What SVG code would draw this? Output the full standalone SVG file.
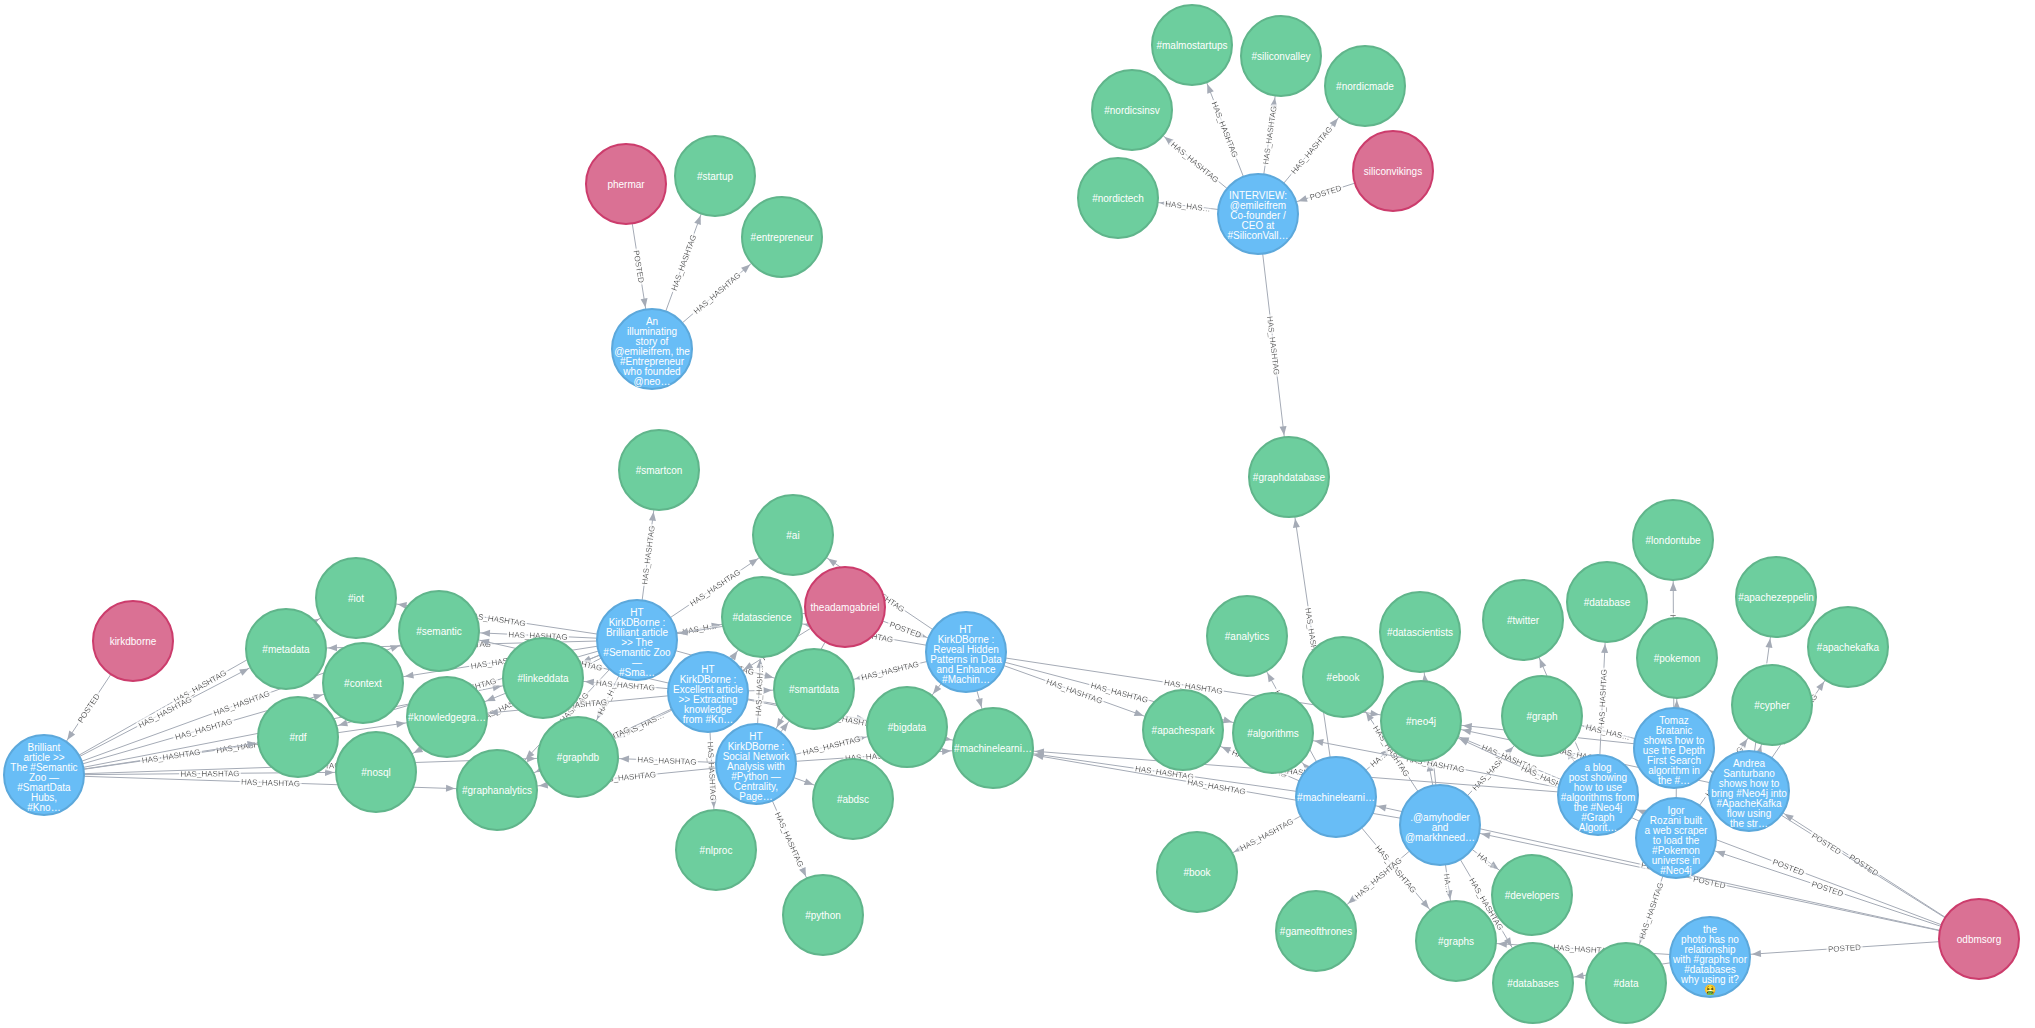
<svg xmlns="http://www.w3.org/2000/svg" width="2035" height="1028" viewBox="0 0 2035 1028">
<style>
.r{fill:none;stroke:#A5ABB6;stroke-width:1}
.e{marker-end:url(#arr)}
.s{marker-start:url(#arr)}
.l{font-family:"Liberation Sans",Arial,sans-serif;font-size:8px;fill:#000;text-anchor:middle;filter:url(#halo)}
.n circle{stroke-width:2}
.u circle{fill:#DA7194;stroke:#CC3C6C}
.t circle{fill:#68BDF6;stroke:#5CA8DB}
.h circle{fill:#6DCE9E;stroke:#60B58B}
.n text{font-family:"Liberation Sans",Arial,sans-serif;font-size:10px;fill:#fff;text-anchor:middle}
</style>
<defs>
<marker id="arr" markerUnits="userSpaceOnUse" orient="auto-start-reverse" refX="0" refY="0" markerWidth="1" markerHeight="1" overflow="visible"><path d="M-42,0L-51,-3.5L-51,3.5Z" fill="#A5ABB6"/></marker>
<filter id="halo" x="-50%" y="-50%" width="200%" height="200%"><feMorphology in="SourceAlpha" operator="dilate" radius="2" result="d"/><feFlood flood-color="#fff"/><feComposite in2="d" operator="in" result="w"/><feMerge><feMergeNode in="w"/><feMergeNode in="SourceGraphic"/></feMerge></filter>
</defs>
<rect width="2035" height="1028" fill="#fff"/>
<g id="connectors">
<path id="e1" class="r e" d="M626,184L652,349"/><text class="l" dy="3"><textPath href="#e1" startOffset="50%">POSTED</textPath></text>
<path id="e2" class="r e" d="M652,349L715,176"/><text class="l" dy="3"><textPath href="#e2" startOffset="50%">HAS_HASHTAG</textPath></text>
<path id="e3" class="r e" d="M652,349L782,237"/><text class="l" dy="3"><textPath href="#e3" startOffset="50%">HAS_HASHTAG</textPath></text>
<path id="e4" class="r s" d="M1258,214L1393,171"/><text class="l" dy="3"><textPath href="#e4" startOffset="50%">POSTED</textPath></text>
<path id="e5" class="r s" d="M1118,198L1258,214"/><text class="l" dy="3"><textPath href="#e5" startOffset="50%">HAS_HAS…</textPath></text>
<path id="e6" class="r s" d="M1132,110L1258,214"/><text class="l" dy="3"><textPath href="#e6" startOffset="50%">HAS_HASHTAG</textPath></text>
<path id="e7" class="r s" d="M1192,45L1258,214"/><text class="l" dy="3"><textPath href="#e7" startOffset="50%">HAS_HASHTAG</textPath></text>
<path id="e8" class="r e" d="M1258,214L1281,56"/><text class="l" dy="3"><textPath href="#e8" startOffset="50%">HAS_HASHTAG</textPath></text>
<path id="e9" class="r e" d="M1258,214L1365,86"/><text class="l" dy="3"><textPath href="#e9" startOffset="50%">HAS_HASHTAG</textPath></text>
<path id="e10" class="r e" d="M1258,214L1289,477"/><text class="l" dy="3"><textPath href="#e10" startOffset="50%">HAS_HASHTAG</textPath></text>
<path id="e11" class="r s" d="M44,775L133,641"/><text class="l" dy="3"><textPath href="#e11" startOffset="50%">POSTED</textPath></text>
<path id="e12" class="r e" d="M44,775L356,598"/><text class="l" dy="3"><textPath href="#e12" startOffset="50%">HAS_HASHTAG</textPath></text>
<path id="e13" class="r e" d="M44,775L286,649"/><text class="l" dy="3"><textPath href="#e13" startOffset="50%">HAS_HASHTAG</textPath></text>
<path id="e14" class="r e" d="M44,775L439,631"/><text class="l" dy="3"><textPath href="#e14" startOffset="50%">HAS_HASHTAG</textPath></text>
<path id="e15" class="r e" d="M44,775L363,683"/><text class="l" dy="3"><textPath href="#e15" startOffset="50%">HAS_HASHTAG</textPath></text>
<path id="e16" class="r e" d="M44,775L447,717"/><text class="l" dy="3"><textPath href="#e16" startOffset="50%">HAS_HASHTAG</textPath></text>
<path id="e17" class="r e" d="M44,775L298,737"/><text class="l" dy="3"><textPath href="#e17" startOffset="50%">HAS_HASHTAG</textPath></text>
<path id="e18" class="r e" d="M44,775L543,678"/><text class="l" dy="3"><textPath href="#e18" startOffset="50%">HAS_HASHTAG</textPath></text>
<path id="e19" class="r e" d="M44,775L376,772"/><text class="l" dy="3"><textPath href="#e19" startOffset="50%">HAS_HASHTAG</textPath></text>
<path id="e20" class="r e" d="M44,775L497,790"/><text class="l" dy="3"><textPath href="#e20" startOffset="50%">HAS_HASHTAG</textPath></text>
<path id="e21" class="r e" d="M44,775L578,757"/><text class="l" dy="3"><textPath href="#e21" startOffset="50%">HAS_HASHTAG</textPath></text>
<path id="e22" class="r e" d="M637,640L659,470"/><text class="l" dy="3"><textPath href="#e22" startOffset="50%">HAS_HASHTAG</textPath></text>
<path id="e23" class="r e" d="M637,640L793,535"/><text class="l" dy="3"><textPath href="#e23" startOffset="50%">HAS_HASHTAG</textPath></text>
<path id="e24" class="r e" d="M637,640L762,617"/><text class="l" dy="3"><textPath href="#e24" startOffset="50%">HAS_H…</textPath></text>
<path id="e25" class="r s" d="M356,598L637,640"/><text class="l" dy="3"><textPath href="#e25" startOffset="50%">HAS_HASHTAG</textPath></text>
<path id="e26" class="r s" d="M439,631L637,640"/><text class="l" dy="3"><textPath href="#e26" startOffset="50%">HAS_HASHTAG</textPath></text>
<path id="e27" class="r s" d="M286,649L637,640"/><text class="l" dy="3"><textPath href="#e27" startOffset="50%">HAS_HASHTAG</textPath></text>
<path id="e28" class="r s" d="M363,683L637,640"/><text class="l" dy="3"><textPath href="#e28" startOffset="50%">HAS_HASHTAG</textPath></text>
<path id="e29" class="r s" d="M447,717L637,640"/><text class="l" dy="3"><textPath href="#e29" startOffset="50%">HAS_HASHTAG</textPath></text>
<path id="e30" class="r s" d="M543,678L637,640"/>
<path id="e31" class="r s" d="M298,737L637,640"/><text class="l" dy="3"><textPath href="#e31" startOffset="50%">HAS_HASHTAG</textPath></text>
<path id="e32" class="r s" d="M376,772L637,640"/><text class="l" dy="3"><textPath href="#e32" startOffset="50%">HAS_HASHTAG</textPath></text>
<path id="e33" class="r s" d="M578,757L637,640"/><text class="l" dy="3"><textPath href="#e33" startOffset="50%">HAS_H…</textPath></text>
<path id="e34" class="r s" d="M497,790L637,640"/><text class="l" dy="3"><textPath href="#e34" startOffset="50%">HAS_HASHTAG</textPath></text>
<path id="e35" class="r e" d="M637,640L814,689"/><text class="l" dy="3"><textPath href="#e35" startOffset="50%">HAS_HASHTAG</textPath></text>
<path id="e36" class="r s" d="M447,717L708,692"/><text class="l" dy="3"><textPath href="#e36" startOffset="50%">HAS_HASHTAG</textPath></text>
<path id="e37" class="r s" d="M543,678L708,692"/><text class="l" dy="3"><textPath href="#e37" startOffset="50%">HAS_HASHTAG</textPath></text>
<path id="e38" class="r s" d="M578,757L708,692"/><text class="l" dy="3"><textPath href="#e38" startOffset="50%">HAS_HAS…</textPath></text>
<path id="e39" class="r s" d="M497,790L708,692"/><text class="l" dy="3"><textPath href="#e39" startOffset="50%">HAS_HASHTAG</textPath></text>
<path id="e40" class="r e" d="M708,692L716,850"/><text class="l" dy="3"><textPath href="#e40" startOffset="50%">HAS_HASHTAG</textPath></text>
<path id="e41" class="r e" d="M708,692L814,689"/>
<path id="e42" class="r e" d="M708,692L762,617"/>
<path id="e43" class="r e" d="M708,692L907,727"/><text class="l" dy="3"><textPath href="#e43" startOffset="50%">HAS_HASHTAG</textPath></text>
<path id="e44" class="r e" d="M708,692L993,748"/><text class="l" dy="3"><textPath href="#e44" startOffset="50%">HAS_HASHTAG</textPath></text>
<path id="e45" class="r s" d="M439,631L708,692"/><text class="l" dy="3"><textPath href="#e45" startOffset="50%">HAS_HASHTAG</textPath></text>
<path id="e46" class="r e" d="M756,764L823,915"/><text class="l" dy="3"><textPath href="#e46" startOffset="50%">HAS_HASHTAG</textPath></text>
<path id="e47" class="r e" d="M756,764L853,799"/>
<path id="e48" class="r s" d="M578,757L756,764"/><text class="l" dy="3"><textPath href="#e48" startOffset="50%">HAS_HASHTAG</textPath></text>
<path id="e49" class="r s" d="M497,790L756,764"/><text class="l" dy="3"><textPath href="#e49" startOffset="50%">HAS_HASHTAG</textPath></text>
<path id="e50" class="r e" d="M756,764L907,727"/><text class="l" dy="3"><textPath href="#e50" startOffset="50%">HAS_HASHTAG</textPath></text>
<path id="e51" class="r e" d="M756,764L993,748"/><text class="l" dy="3"><textPath href="#e51" startOffset="50%">HAS_HASHTAG</textPath></text>
<path id="e52" class="r e" d="M756,764L814,689"/>
<path id="e53" class="r e" d="M756,764L762,617"/><text class="l" dy="3"><textPath href="#e53" startOffset="50%">HAS_HASH…</textPath></text>
<path id="e54" class="r s" d="M793,535L966,652"/><text class="l" dy="3"><textPath href="#e54" startOffset="50%">HAS_HASHTAG</textPath></text>
<path id="e55" class="r s" d="M762,617L966,652"/><text class="l" dy="3"><textPath href="#e55" startOffset="50%">HAS_HASHTAG</textPath></text>
<path id="e56" class="r s" d="M814,689L966,652"/><text class="l" dy="3"><textPath href="#e56" startOffset="50%">HAS_HASHTAG</textPath></text>
<path id="e57" class="r s" d="M907,727L966,652"/>
<path id="e58" class="r e" d="M966,652L993,748"/>
<path id="e59" class="r e" d="M966,652L1183,730"/><text class="l" dy="3"><textPath href="#e59" startOffset="50%">HAS_HASHTAG</textPath></text>
<path id="e60" class="r e" d="M966,652L1273,733"/><text class="l" dy="3"><textPath href="#e60" startOffset="50%">HAS_HASHTAG</textPath></text>
<path id="e61" class="r e" d="M966,652L1421,721"/><text class="l" dy="3"><textPath href="#e61" startOffset="50%">HAS_HASHTAG</textPath></text>
<path id="e62" class="r e" d="M845,607L966,652"/><text class="l" dy="3"><textPath href="#e62" startOffset="50%">POSTED</textPath></text>
<path id="e63" class="r s" d="M637,640L845,607"/><text class="l" dy="3"><textPath href="#e63" startOffset="50%">POSTED</textPath></text>
<path id="e64" class="r s" d="M708,692L845,607"/><text class="l" dy="3"><textPath href="#e64" startOffset="50%">POSTED</textPath></text>
<path id="e65" class="r s" d="M756,764L845,607"/><text class="l" dy="3"><textPath href="#e65" startOffset="50%">POSTED</textPath></text>
<path id="e66" class="r s" d="M1289,477L1336,797"/><text class="l" dy="3"><textPath href="#e66" startOffset="50%">HAS_HASHTAG</textPath></text>
<path id="e67" class="r s" d="M1247,636L1336,797"/><text class="l" dy="3"><textPath href="#e67" startOffset="50%">HAS_HASHTAG</textPath></text>
<path id="e68" class="r s" d="M1273,733L1336,797"/>
<path id="e69" class="r s" d="M1183,730L1336,797"/><text class="l" dy="3"><textPath href="#e69" startOffset="50%">HAS_HASHTAG</textPath></text>
<path id="e70" class="r s" d="M993,748L1336,797"/><text class="l" dy="3"><textPath href="#e70" startOffset="50%">HAS_HASHTAG</textPath></text>
<path id="e71" class="r e" d="M1336,797L1421,721"/><text class="l" dy="3"><textPath href="#e71" startOffset="50%">HA…</textPath></text>
<path id="e72" class="r s" d="M1197,872L1336,797"/><text class="l" dy="3"><textPath href="#e72" startOffset="50%">HAS_HASHTAG</textPath></text>
<path id="e73" class="r e" d="M1336,797L1456,941"/><text class="l" dy="3"><textPath href="#e73" startOffset="50%">HAS_HASHTAG</textPath></text>
<path id="e74" class="r s" d="M1343,677L1440,825"/><text class="l" dy="3"><textPath href="#e74" startOffset="50%">HAS_HASHTAG</textPath></text>
<path id="e75" class="r s" d="M1421,721L1440,825"/>
<path id="e76" class="r s" d="M1420,632L1440,825"/><text class="l" dy="3"><textPath href="#e76" startOffset="50%">HAS_HASHTAG</textPath></text>
<path id="e77" class="r e" d="M1440,825L1542,716"/><text class="l" dy="3"><textPath href="#e77" startOffset="50%">HAS_HASH…</textPath></text>
<path id="e78" class="r e" d="M1440,825L1532,895"/><text class="l" dy="3"><textPath href="#e78" startOffset="50%">HA…</textPath></text>
<path id="e79" class="r e" d="M1440,825L1456,941"/><text class="l" dy="3"><textPath href="#e79" startOffset="50%">HA…</textPath></text>
<path id="e80" class="r e" d="M1440,825L1533,983"/><text class="l" dy="3"><textPath href="#e80" startOffset="50%">HAS_HASHTAG</textPath></text>
<path id="e81" class="r s" d="M1316,931L1440,825"/><text class="l" dy="3"><textPath href="#e81" startOffset="50%">HAS_HASHTAG</textPath></text>
<path id="e82" class="r s" d="M993,748L1440,825"/><text class="l" dy="3"><textPath href="#e82" startOffset="50%">HAS_HASHTAG</textPath></text>
<path id="e84" class="r e" d="M1598,795L1607,602"/><text class="l" dy="3"><textPath href="#e84" startOffset="50%">HAS_HASHTAG</textPath></text>
<path id="e85" class="r s" d="M1542,716L1598,795"/>
<path id="e86" class="r s" d="M1421,721L1598,795"/><text class="l" dy="3"><textPath href="#e86" startOffset="50%">HAS_HASHTAG</textPath></text>
<path id="e87" class="r s" d="M1273,733L1598,795"/><text class="l" dy="3"><textPath href="#e87" startOffset="50%">HAS_HASHTAG</textPath></text>
<path id="e88" class="r s" d="M1523,620L1598,795"/><text class="l" dy="3"><textPath href="#e88" startOffset="50%">HAS_HASHTAG</textPath></text>
<path id="e89" class="r s" d="M993,748L1598,795"/><text class="l" dy="3"><textPath href="#e89" startOffset="50%">HAS_HASHTAG</textPath></text>
<path id="e90" class="r s" d="M1673,540L1674,748"/><text class="l" dy="3"><textPath href="#e90" startOffset="50%">HAS_HASHTAG</textPath></text>
<path id="e91" class="r s" d="M1542,716L1674,748"/><text class="l" dy="3"><textPath href="#e91" startOffset="50%">HAS_HAS…</textPath></text>
<path id="e92" class="r s" d="M1421,721L1674,748"/><text class="l" dy="3"><textPath href="#e92" startOffset="50%">HAS_HASHTAG</textPath></text>
<path id="e93" class="r e" d="M1749,791L1772,705"/>
<path id="e94" class="r e" d="M1749,791L1776,597"/><text class="l" dy="3"><textPath href="#e94" startOffset="50%">HAS_HASHTAG</textPath></text>
<path id="e95" class="r e" d="M1749,791L1848,647"/><text class="l" dy="3"><textPath href="#e95" startOffset="50%">HAS_HASHTAG</textPath></text>
<path id="e96" class="r s" d="M1421,721L1749,791"/><text class="l" dy="3"><textPath href="#e96" startOffset="50%">HAS_HASHTAG</textPath></text>
<path id="e97" class="r e" d="M1676,838L1677,658"/><text class="l" dy="3"><textPath href="#e97" startOffset="50%">HAS_HASHTAG</textPath></text>
<path id="e98" class="r s" d="M1626,983L1676,838"/><text class="l" dy="3"><textPath href="#e98" startOffset="50%">HAS_HASHTAG</textPath></text>
<path id="e99" class="r e" d="M1676,838L1772,705"/><text class="l" dy="3"><textPath href="#e99" startOffset="50%">HAS_HASHTAG</textPath></text>
<path id="e100" class="r s" d="M1421,721L1676,838"/><text class="l" dy="3"><textPath href="#e100" startOffset="50%">HAS_HASHTAG</textPath></text>
<path id="e101" class="r s" d="M1456,941L1710,957"/><text class="l" dy="3"><textPath href="#e101" startOffset="50%">HAS_HASHTAG</textPath></text>
<path id="e102" class="r s" d="M1533,983L1710,957"/><text class="l" dy="3"><textPath href="#e102" startOffset="50%">HAS_HASHTAG</textPath></text>
<path id="e103" class="r s" d="M1710,957L1979,939"/><text class="l" dy="3"><textPath href="#e103" startOffset="50%">POSTED</textPath></text>
<path id="e104" class="r s" d="M1676,838L1979,939"/><text class="l" dy="3"><textPath href="#e104" startOffset="50%">POSTED</textPath></text>
<path id="e105" class="r s" d="M1749,791L1979,939"/><text class="l" dy="3"><textPath href="#e105" startOffset="50%">POSTED</textPath></text>
<path id="e106" class="r s" d="M1674,748L1979,939"/><text class="l" dy="3"><textPath href="#e106" startOffset="50%">POSTED</textPath></text>
<path id="e107" class="r s" d="M1598,795L1979,939"/><text class="l" dy="3"><textPath href="#e107" startOffset="50%">POSTED</textPath></text>
<path id="e108" class="r s" d="M1440,825L1979,939"/><text class="l" dy="3"><textPath href="#e108" startOffset="50%">POSTED</textPath></text>
<path id="e109" class="r s" d="M1336,797L1979,939"/><text class="l" dy="3"><textPath href="#e109" startOffset="50%">POSTED</textPath></text>
</g>
<g id="nodes">
<g id="n-phermar" class="n u"><circle cx="626" cy="184" r="40"/><text x="626" y="188">phermar</text></g>
<g id="n-siliconvikings" class="n u"><circle cx="1393" cy="171" r="40"/><text x="1393" y="175">siliconvikings</text></g>
<g id="n-kirkdborne" class="n u"><circle cx="133" cy="641" r="40"/><text x="133" y="645">kirkdborne</text></g>
<g id="n-theadamgabriel" class="n u"><circle cx="845" cy="607" r="40"/><text x="845" y="611">theadamgabriel</text></g>
<g id="n-odbmsorg" class="n u"><circle cx="1979" cy="939" r="40"/><text x="1979" y="943">odbmsorg</text></g>

<g id="n-startup" class="n h"><circle cx="715" cy="176" r="40"/><text x="715" y="180">#startup</text></g>
<g id="n-entrepreneur" class="n h"><circle cx="782" cy="237" r="40"/><text x="782" y="241">#entrepreneur</text></g>
<g id="n-malmostartups" class="n h"><circle cx="1192" cy="45" r="40"/><text x="1192" y="49">#malmostartups</text></g>
<g id="n-siliconvalley" class="n h"><circle cx="1281" cy="56" r="40"/><text x="1281" y="60">#siliconvalley</text></g>
<g id="n-nordicmade" class="n h"><circle cx="1365" cy="86" r="40"/><text x="1365" y="90">#nordicmade</text></g>
<g id="n-nordicsinsv" class="n h"><circle cx="1132" cy="110" r="40"/><text x="1132" y="114">#nordicsinsv</text></g>
<g id="n-nordictech" class="n h"><circle cx="1118" cy="198" r="40"/><text x="1118" y="202">#nordictech</text></g>
<g id="n-graphdatabase" class="n h"><circle cx="1289" cy="477" r="40"/><text x="1289" y="481">#graphdatabase</text></g>
<g id="n-smartcon" class="n h"><circle cx="659" cy="470" r="40"/><text x="659" y="474">#smartcon</text></g>
<g id="n-ai" class="n h"><circle cx="793" cy="535" r="40"/><text x="793" y="539">#ai</text></g>
<g id="n-datascience" class="n h"><circle cx="762" cy="617" r="40"/><text x="762" y="621">#datascience</text></g>
<g id="n-smartdata" class="n h"><circle cx="814" cy="689" r="40"/><text x="814" y="693">#smartdata</text></g>
<g id="n-bigdata" class="n h"><circle cx="907" cy="727" r="40"/><text x="907" y="731">#bigdata</text></g>
<g id="n-machinelearning" class="n h"><circle cx="993" cy="748" r="40"/><text x="993" y="752">#machinelearni…</text></g>
<g id="n-abdsc" class="n h"><circle cx="853" cy="799" r="40"/><text x="853" y="803">#abdsc</text></g>
<g id="n-nlproc" class="n h"><circle cx="716" cy="850" r="40"/><text x="716" y="854">#nlproc</text></g>
<g id="n-python" class="n h"><circle cx="823" cy="915" r="40"/><text x="823" y="919">#python</text></g>
<g id="n-iot" class="n h"><circle cx="356" cy="598" r="40"/><text x="356" y="602">#iot</text></g>
<g id="n-semantic" class="n h"><circle cx="439" cy="631" r="40"/><text x="439" y="635">#semantic</text></g>
<g id="n-metadata" class="n h"><circle cx="286" cy="649" r="40"/><text x="286" y="653">#metadata</text></g>
<g id="n-context" class="n h"><circle cx="363" cy="683" r="40"/><text x="363" y="687">#context</text></g>
<g id="n-linkeddata" class="n h"><circle cx="543" cy="678" r="40"/><text x="543" y="682">#linkeddata</text></g>
<g id="n-knowledgegraphs" class="n h"><circle cx="447" cy="717" r="40"/><text x="447" y="721">#knowledgegra…</text></g>
<g id="n-rdf" class="n h"><circle cx="298" cy="737" r="40"/><text x="298" y="741">#rdf</text></g>
<g id="n-nosql" class="n h"><circle cx="376" cy="772" r="40"/><text x="376" y="776">#nosql</text></g>
<g id="n-graphdb" class="n h"><circle cx="578" cy="757" r="40"/><text x="578" y="761">#graphdb</text></g>
<g id="n-graphanalytics" class="n h"><circle cx="497" cy="790" r="40"/><text x="497" y="794">#graphanalytics</text></g>
<g id="n-analytics" class="n h"><circle cx="1247" cy="636" r="40"/><text x="1247" y="640">#analytics</text></g>
<g id="n-apachespark" class="n h"><circle cx="1183" cy="730" r="40"/><text x="1183" y="734">#apachespark</text></g>
<g id="n-algorithms" class="n h"><circle cx="1273" cy="733" r="40"/><text x="1273" y="737">#algorithms</text></g>
<g id="n-ebook" class="n h"><circle cx="1343" cy="677" r="40"/><text x="1343" y="681">#ebook</text></g>
<g id="n-datascientists" class="n h"><circle cx="1420" cy="632" r="40"/><text x="1420" y="636">#datascientists</text></g>
<g id="n-neo4j" class="n h"><circle cx="1421" cy="721" r="40"/><text x="1421" y="725">#neo4j</text></g>
<g id="n-twitter" class="n h"><circle cx="1523" cy="620" r="40"/><text x="1523" y="624">#twitter</text></g>
<g id="n-graph" class="n h"><circle cx="1542" cy="716" r="40"/><text x="1542" y="720">#graph</text></g>
<g id="n-database" class="n h"><circle cx="1607" cy="602" r="40"/><text x="1607" y="606">#database</text></g>
<g id="n-londontube" class="n h"><circle cx="1673" cy="540" r="40"/><text x="1673" y="544">#londontube</text></g>
<g id="n-pokemon" class="n h"><circle cx="1677" cy="658" r="40"/><text x="1677" y="662">#pokemon</text></g>
<g id="n-apachezeppelin" class="n h"><circle cx="1776" cy="597" r="40"/><text x="1776" y="601">#apachezeppelin</text></g>
<g id="n-apachekafka" class="n h"><circle cx="1848" cy="647" r="40"/><text x="1848" y="651">#apachekafka</text></g>
<g id="n-cypher" class="n h"><circle cx="1772" cy="705" r="40"/><text x="1772" y="709">#cypher</text></g>
<g id="n-book" class="n h"><circle cx="1197" cy="872" r="40"/><text x="1197" y="876">#book</text></g>
<g id="n-gameofthrones" class="n h"><circle cx="1316" cy="931" r="40"/><text x="1316" y="935">#gameofthrones</text></g>
<g id="n-graphs" class="n h"><circle cx="1456" cy="941" r="40"/><text x="1456" y="945">#graphs</text></g>
<g id="n-developers" class="n h"><circle cx="1532" cy="895" r="40"/><text x="1532" y="899">#developers</text></g>
<g id="n-databases" class="n h"><circle cx="1533" cy="983" r="40"/><text x="1533" y="987">#databases</text></g>
<g id="n-data" class="n h"><circle cx="1626" cy="983" r="40"/><text x="1626" y="987">#data</text></g>

<g id="n-t-illum" class="n t"><circle cx="652" cy="349" r="40"/><text x="652" y="325"><tspan x="652">An</tspan><tspan x="652" dy="10">illuminating</tspan><tspan x="652" dy="10">story of</tspan><tspan x="652" dy="10">@emileifrem, the</tspan><tspan x="652" dy="10">#Entrepreneur</tspan><tspan x="652" dy="10">who founded</tspan><tspan x="652" dy="10">@neo…</tspan></text></g>
<g id="n-t-interview" class="n t"><circle cx="1258" cy="214" r="40"/><text x="1258" y="199"><tspan x="1258">INTERVIEW:</tspan><tspan x="1258" dy="10">@emileifrem</tspan><tspan x="1258" dy="10">Co-founder /</tspan><tspan x="1258" dy="10">CEO at</tspan><tspan x="1258" dy="10">#SiliconVall…</tspan></text></g>
<g id="n-t-brilliant" class="n t"><circle cx="44" cy="775" r="40"/><text x="44" y="751"><tspan x="44">Brilliant</tspan><tspan x="44" dy="10">article &gt;&gt;</tspan><tspan x="44" dy="10">The #Semantic</tspan><tspan x="44" dy="10">Zoo —</tspan><tspan x="44" dy="10">#SmartData</tspan><tspan x="44" dy="10">Hubs,</tspan><tspan x="44" dy="10">#Kno…</tspan></text></g>
<g id="n-t-htbrilliant" class="n t"><circle cx="637" cy="640" r="40"/><text x="637" y="616"><tspan x="637">HT</tspan><tspan x="637" dy="10">KirkDBorne :</tspan><tspan x="637" dy="10">Brilliant article</tspan><tspan x="637" dy="10">&gt;&gt; The</tspan><tspan x="637" dy="10">#Semantic Zoo</tspan><tspan x="637" dy="10">—</tspan><tspan x="637" dy="10">#Sma…</tspan></text></g>
<g id="n-t-htexcellent" class="n t"><circle cx="708" cy="692" r="40"/><text x="708" y="673"><tspan x="708">HT</tspan><tspan x="708" dy="10">KirkDBorne :</tspan><tspan x="708" dy="10">Excellent article</tspan><tspan x="708" dy="10">&gt;&gt; Extracting</tspan><tspan x="708" dy="10">knowledge</tspan><tspan x="708" dy="10">from #Kn…</tspan></text></g>
<g id="n-t-htsocial" class="n t"><circle cx="756" cy="764" r="40"/><text x="756" y="740"><tspan x="756">HT</tspan><tspan x="756" dy="10">KirkDBorne :</tspan><tspan x="756" dy="10">Social Network</tspan><tspan x="756" dy="10">Analysis with</tspan><tspan x="756" dy="10">#Python —</tspan><tspan x="756" dy="10">Centrality,</tspan><tspan x="756" dy="10">Page…</tspan></text></g>
<g id="n-t-htreveal" class="n t"><circle cx="966" cy="652" r="40"/><text x="966" y="633"><tspan x="966">HT</tspan><tspan x="966" dy="10">KirkDBorne :</tspan><tspan x="966" dy="10">Reveal Hidden</tspan><tspan x="966" dy="10">Patterns in Data</tspan><tspan x="966" dy="10">and Enhance</tspan><tspan x="966" dy="10">#Machin…</tspan></text></g>
<g id="n-t-ml" class="n t"><circle cx="1336" cy="797" r="40"/><text x="1336" y="801">#machinelearni…</text></g>
<g id="n-t-amy" class="n t"><circle cx="1440" cy="825" r="40"/><text x="1440" y="821"><tspan x="1440">.@amyhodler</tspan><tspan x="1440" dy="10">and</tspan><tspan x="1440" dy="10">@markhneed…</tspan></text></g>
<g id="n-t-blog" class="n t"><circle cx="1598" cy="795" r="40"/><text x="1598" y="771"><tspan x="1598">a blog</tspan><tspan x="1598" dy="10">post showing</tspan><tspan x="1598" dy="10">how to use</tspan><tspan x="1598" dy="10">#algorithms from</tspan><tspan x="1598" dy="10">the #Neo4j</tspan><tspan x="1598" dy="10">#Graph</tspan><tspan x="1598" dy="10">Algorit…</tspan></text></g>
<g id="n-t-tomaz" class="n t"><circle cx="1674" cy="748" r="40"/><text x="1674" y="724"><tspan x="1674">Tomaz</tspan><tspan x="1674" dy="10">Bratanic</tspan><tspan x="1674" dy="10">shows how to</tspan><tspan x="1674" dy="10">use the Depth</tspan><tspan x="1674" dy="10">First Search</tspan><tspan x="1674" dy="10">algorithm in</tspan><tspan x="1674" dy="10">the #…</tspan></text></g>
<g id="n-t-andrea" class="n t"><circle cx="1749" cy="791" r="40"/><text x="1749" y="767"><tspan x="1749">Andrea</tspan><tspan x="1749" dy="10">Santurbano</tspan><tspan x="1749" dy="10">shows how to</tspan><tspan x="1749" dy="10">bring #Neo4j into</tspan><tspan x="1749" dy="10">#ApacheKafka</tspan><tspan x="1749" dy="10">flow using</tspan><tspan x="1749" dy="10">the str…</tspan></text></g>
<g id="n-t-igor" class="n t"><circle cx="1676" cy="838" r="40"/><text x="1676" y="814"><tspan x="1676">Igor</tspan><tspan x="1676" dy="10">Rozani built</tspan><tspan x="1676" dy="10">a web scraper</tspan><tspan x="1676" dy="10">to load the</tspan><tspan x="1676" dy="10">#Pokemon</tspan><tspan x="1676" dy="10">universe in</tspan><tspan x="1676" dy="10">#Neo4j</tspan></text></g>
<g id="n-t-photo" class="n t"><circle cx="1710" cy="957" r="40"/><text x="1710" y="933"><tspan x="1710">the</tspan><tspan x="1710" dy="10">photo has no</tspan><tspan x="1710" dy="10">relationship</tspan><tspan x="1710" dy="10">with #graphs nor</tspan><tspan x="1710" dy="10">#databases</tspan><tspan x="1710" dy="10">why using it?</tspan><tspan x="1710" dy="10">🤮</tspan></text></g>
</g>
</svg>
